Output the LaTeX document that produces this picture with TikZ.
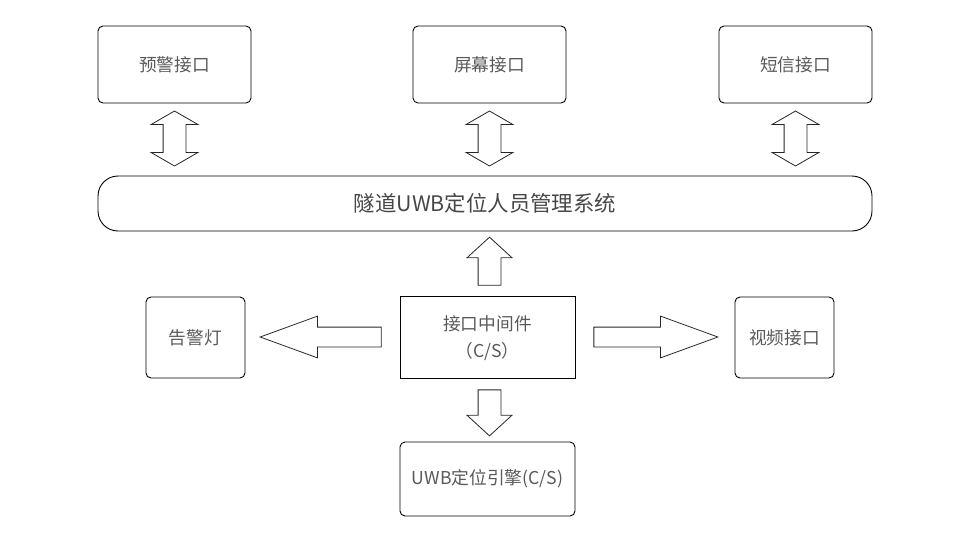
\documentclass[tikz,border=0pt]{standalone}
\usepackage{fontspec}
\setmainfont{Noto Sans CJK SC}
\usetikzlibrary{positioning}
\usetikzlibrary{calc}
\usetikzlibrary{shapes.arrows}
\definecolor{txtgray}{HTML}{595959}

\begin{document}
\begin{tikzpicture}
  [x=1pt, y=-1pt,
    box/.style={draw=black, line width=0.9pt, rounded corners=5pt,
      text=txtgray, font=\fontsize{17.7}{23}\selectfont, align=center},
    big/.style={box, minimum width=153pt, minimum height=77pt},
    small/.style={box, minimum width=99pt, minimum height=81pt},
    vert/.style={draw=black!85, line width=0.8pt, double arrow, inner sep=11pt,
      double arrow head extend=12pt, double arrow tip angle=120,
      shape border rotate=90, minimum height=55pt},
    fat/.style={draw=black!85, line width=0.8pt, single arrow, inner sep=11pt,
      single arrow head extend=11pt, single arrow tip angle=95, anchor=tail},
    thin/.style={draw=black!85, line width=0.8pt, single arrow, inner sep=9.5pt,
      single arrow head extend=11pt, single arrow tip angle=40,
      minimum height=122pt, anchor=tail}
  ]

  \useasboundingbox (0,0) rectangle (980,546);

  % top row
  \node (warn)   at (174.5,64.5) [big] {预警接口};
  \node (screen) at (489.5,64.5) [big] {屏幕接口};
  \node (sms)    at (795.5,64.5) [big] {短信接口};

  % system bar
  \node (sys) at (485,203.5) [box, rounded corners=20pt, minimum width=774pt,
    minimum height=55pt, font=\fontsize{21.4}{24}\selectfont, text=black!72]
    {隧道UWB定位人员管理系统};

  % middle row
  \node (lamp)  at (195.5,337.5) [small] {告警灯};
  \node (mid)   at (487.5,337)   [box, rounded corners=0pt, minimum width=175pt,
    minimum height=82pt, font=\fontsize{17.7}{27}\selectfont,
    text depth=0pt] {接口中间件\\（C/S）};
  \node (video) at (784.5,337.5) [small] {视频接口};

  % engine
  \node (engine) at (487.5,479) [box, minimum width=175pt, minimum height=74pt]
    {UWB定位引擎(C/S)};

  % block arrows
  \node (a1) at ($(warn.south)!0.5!(warn.south|-sys.north)+(0,-1)$)     [vert] {};
  \node (a2) at ($(screen.south)!0.5!(screen.south|-sys.north)+(0,-1)$) [vert] {};
  \node (a3) at ($(sms.south)!0.5!(sms.south|-sys.north)+(0,-1)$)       [vert] {};

  \node (up)    at ($(mid.north)+(2,-10)$) [fat,
    shape border rotate=90, minimum height=48pt] {};
  \node (down)  at ($(mid.south)+(2,11)$) [fat,
    shape border rotate=270, minimum height=46pt] {};
  \node (left)  at ($(mid.west)+(-18,0)$) [thin,
    shape border rotate=180, minimum height=121pt] {};
  \node (right) at ($(mid.east)+(18,0)$) [thin, minimum height=124pt] {};
\end{tikzpicture}
\end{document}
